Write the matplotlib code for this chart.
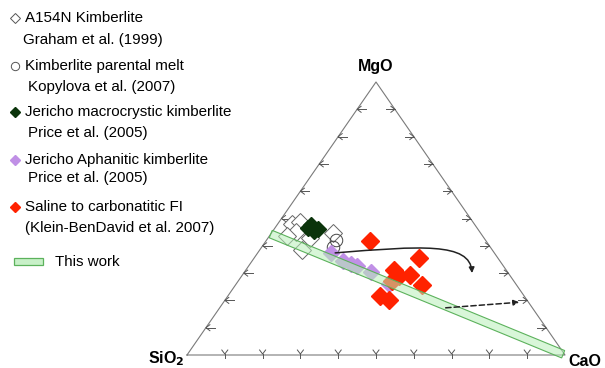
import matplotlib

matplotlib.use("Agg")
import matplotlib.pyplot as plt
import numpy as np
from matplotlib.path import Path
from matplotlib.patches import FancyArrowPatch, Polygon, Rectangle

plt.rcParams["font.family"] = ["Liberation Sans", "DejaVu Sans"]

# compositions in wt% (SiO2, MgO, CaO)
a154n_mgo = [48.0, 48.7, 45.1, 43.6, 38.5, 44.7, 42.9]
a154n_cao = [3.8, 5.5, 6.3, 4.7, 11.2, 16.3, 11.1]

melt_mgo = [42.1, 39.6]
melt_cao = [18.4, 18.8]

macro_mgo = [46.5, 45.4, 46.2, 47.6]
macro_cao = [8.8, 10.9, 11.6, 9.0]

aphan_mgo = [37.4, 34.4, 33.3, 32.6, 30.4, 26.0]
aphan_cao = [19.4, 24.0, 26.7, 28.7, 33.5, 40.4]

fi_mgo = [41.8, 35.5, 31.1, 28.9, 29.3, 25.6, 27.1, 21.6, 20.1]
fi_cao = [27.5, 43.6, 39.2, 41.6, 44.3, 49.3, 40.7, 40.3, 43.4]

# "This work" trend: from the SiO2-MgO join to the CaO apex
band_mgo = [44.3, 0.0]
band_cao = [0.0, 100.0]

# trend arrows (MgO, CaO)
curve_mgo = [37.4, 39.9, 41.4, 30.0]
curve_cao = [20.5, 41.7, 54.2, 60.4]
dash_mgo = [17.2, 19.4]
dash_cao = [59.1, 78.9]

tick_fracs = [i / 10 for i in range(1, 10)]

legend_rows = [
    ("A154N Kimberlite", "Graham et al. (1999)"),
    ("Kimberlite parental melt", "Kopylova et al. (2007)"),
    ("Jericho macrocrystic kimberlite", "Price et al. (2005)"),
    ("Jericho Aphanitic kimberlite", "Price et al. (2005)"),
    ("Saline to carbonatitic FI", "(Klein-BenDavid et al. 2007)"),
]

# triangle corners in figure pixels
V_SIO2 = np.array([187.0, 355.0])
V_MGO = np.array([376.0, 82.0])
V_CAO = np.array([565.0, 355.0])


def tern(mgo, cao):
    mgo = np.asarray(mgo, float) / 100.0
    cao = np.asarray(cao, float) / 100.0
    sio2 = 1.0 - mgo - cao
    pts = np.outer(sio2, V_SIO2) + np.outer(mgo, V_MGO) + np.outer(cao, V_CAO)
    return pts[:, 0], pts[:, 1]


fig = plt.figure(figsize=(6.05, 3.68), dpi=100)
ax = fig.add_axes([0, 0, 1, 1])
ax.set_xlim(0, 605)
ax.set_ylim(368, 0)
ax.axis("off")

edge_c = "#7a7a7a"
tri = np.array([V_SIO2, V_CAO, V_MGO, V_SIO2])
ax.plot(tri[:, 0], tri[:, 1], color=edge_c, lw=0.8, zorder=1)

# ticks
tk = dict(color="#555555", lw=0.7, zorder=1)
for f in tick_fracs:
    p = V_SIO2 + f * (V_CAO - V_SIO2)
    ax.plot([p[0], p[0]], [p[1] - 1, p[1] + 3], **tk)
    ax.plot([p[0] - 3, p[0], p[0] + 3], [p[1] - 5, p[1] - 1, p[1] - 5], **tk)
    p = V_SIO2 + f * (V_MGO - V_SIO2)
    ax.plot([p[0], p[0] + 9], [p[1], p[1]], **tk)
    ax.plot([p[0] + 4, p[0], p[0] + 4], [p[1] - 3, p[1], p[1] + 3], **tk)
    p = V_CAO + f * (V_MGO - V_CAO)
    ax.plot([p[0], p[0] - 9], [p[1], p[1]], **tk)
    ax.plot([p[0] - 4, p[0], p[0] - 4], [p[1] - 3, p[1], p[1] + 3], **tk)

x, y = tern(a154n_mgo, a154n_cao)
ax.plot(x, y, "D", ms=9, mfc="white", mec="#666666", mew=0.7, ls="none", zorder=3)
x, y = tern(melt_mgo, melt_cao)
ax.plot(x, y, "o", ms=9, mfc="none", mec="#444444", mew=0.7, ls="none", zorder=3)
x, y = tern(macro_mgo, macro_cao)
ax.plot(x, y, "D", ms=8, color="#0b340b", ls="none", zorder=4)
x, y = tern(aphan_mgo, aphan_cao)
ax.plot(x, y, "D", ms=8.5, color="#c090e6", ls="none", zorder=4)
x, y = tern(fi_mgo, fi_cao)
ax.plot(x, y, "D", ms=9.2, color="#ff2200", ls="none", zorder=5)

# band
bx, by = tern(band_mgo, band_cao)
d = np.array([bx[1] - bx[0], by[1] - by[0]])
d /= np.hypot(*d)
n = np.array([-d[1], d[0]]) * 4.0
p0 = np.array([bx[0], by[0]])
p1 = np.array([bx[1], by[1]]) - d * 2
ax.add_patch(Polygon([p0 + n, p1 + n, p1 - n, p0 - n], closed=True,
                     fc=(0.72, 0.94, 0.72, 0.55), ec="#5cb25c", lw=0.8, zorder=6))

# arrows
cx, cy = tern(curve_mgo, curve_cao)
path = Path(np.column_stack([cx, cy]), [Path.MOVETO, Path.CURVE4, Path.CURVE4, Path.CURVE4])
ax.add_patch(FancyArrowPatch(path=path, arrowstyle="-|>", mutation_scale=8,
                             color="#222222", lw=1.1, zorder=7))
dx, dy = tern(dash_mgo, dash_cao)
ax.add_patch(FancyArrowPatch((dx[0], dy[0]), (dx[1], dy[1]), arrowstyle="-|>",
                             mutation_scale=8, color="#222222", lw=1.1,
                             linestyle=(0, (3.5, 2)), zorder=7))

# corner labels
ax.text(V_MGO[0], 66, "MgO", ha="center", va="center", fontsize=11.5, fontweight="bold")
ax.text(184, 359, "SiO$_\\mathbf{2}$", ha="right", va="center", fontsize=11.5, fontweight="bold")
ax.text(568, 361, "CaO", ha="left", va="center", fontsize=11.5, fontweight="bold")

# legend
fs = 10.9
row_y = [18, 66, 112, 160, 207]
sub_y = [40, 87, 133, 178, 228]
sub_x = [23, 28, 28, 28, 25]
ax.plot(15, row_y[0], "D", ms=5, mfc="white", mec="#555555", mew=0.7)
ax.plot(15, row_y[1], "o", ms=6, mfc="white", mec="#555555", mew=0.7)
ax.plot(15, row_y[2], "D", ms=5, color="#0b340b")
ax.plot(15, row_y[3], "D", ms=5, color="#c090e6")
ax.plot(15, row_y[4], "D", ms=5, color="#ff2200")
for (t1, t2), y1, y2, x2 in zip(legend_rows, row_y, sub_y, sub_x):
    ax.text(25, y1, t1, ha="left", va="center", fontsize=fs)
    ax.text(x2, y2, t2, ha="left", va="center", fontsize=fs)
ax.add_patch(Rectangle((14, 258), 29, 7, fc="#c8f0c8", ec="#5cb25c", lw=0.9))
ax.text(55, 262, "This work", ha="left", va="center", fontsize=fs)

fig.savefig("out.png", dpi=100)
